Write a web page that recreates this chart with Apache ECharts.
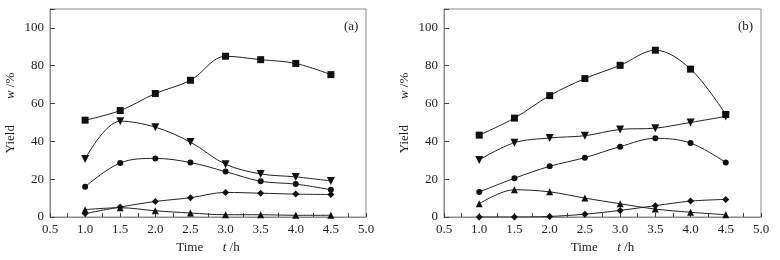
<!DOCTYPE html>
<html>
<head>
<meta charset="utf-8">
<script src="https://cdn.jsdelivr.net/npm/echarts@6/dist/echarts.min.js"></script>
<style>
  html, body { margin: 0; padding: 0; background: #fff; }
  #chart { width: 780px; height: 260px; }
</style>
</head>
<body>
<div id="chart"></div>
<script>
// 反应时间 t/h
const times = [1.0, 1.5, 2.0, 2.5, 3.0, 3.5, 4.0, 4.5]
const xTicks = [0.5, 1.0, 1.5, 2.0, 2.5, 3.0, 3.5, 4.0, 4.5, 5.0]
const yTicks = [0, 20, 40, 60, 80, 100]

// panel (a)
const aSquare = [51.2, 56.3, 65.3, 72.3, 85, 83.2, 81.2, 75.3]
const aDown = [30.7, 50.7, 47.5, 39.6, 27.9, 22.8, 21.2, 19.1]
const aCircle = [16, 28.6, 31, 28.8, 24, 18.9, 17.4, 14.4]
const aDiamond = [1.8, 5.3, 8.2, 10.2, 13, 12.6, 12.1, 11.9]
const aUp = [3.9, 4.9, 3.3, 2.1, 1.2, 1.2, 0.9, 0.9]

// panel (b)
const bSquare = [43.3, 52.3, 64.2, 73.2, 80.2, 88.2, 78.2, 54.2]
const bDown = [30.2, 39.3, 41.8, 43, 46.3, 47, 50, 53.2]
const bCircle = [13.2, 20.5, 26.8, 31.4, 37.2, 41.6, 39.1, 28.8]
const bUp = [7, 14.4, 13.3, 10, 7, 4.2, 2.5, 1.2]
const bDiamond = [0, 0, 0.3, 1.5, 3.5, 6, 8.4, 9.3]

const font = "'Liberation Serif', 'Times New Roman', serif"
const frame = '#8a8a8a'

function pairs(vals) {
  return times.map((t, i) => [t, vals[i]])
}

function makeSeries(vals, idx, symbol, size, rotate) {
  return {
    type: 'line',
    xAxisIndex: idx,
    yAxisIndex: idx,
    data: pairs(vals),
    smooth: 0.35,
    symbol,
    symbolSize: size,
    symbolRotate: rotate || 0,
    showSymbol: true,
    clip: true,
    itemStyle: { color: '#111' },
    lineStyle: { color: '#222', width: 1 },
    z: 3
  }
}

function xAxisOf(idx) {
  return {
    type: 'value',
    gridIndex: idx,
    min: xTicks[0],
    max: xTicks[xTicks.length - 1],
    interval: 0.5,
    axisLine: { lineStyle: { color: frame, width: 1 } },
    axisTick: { inside: true, length: 4, lineStyle: { color: '#444' } },
    minorTick: { show: true, splitNumber: 2, length: 4, lineStyle: { color: '#444' } },
    splitLine: { show: false },
    axisLabel: {
      color: '#222',
      fontFamily: font,
      fontSize: 13,
      margin: 6,
      formatter: v => v.toFixed(1)
    },
    name: '{n|Time}      {i|t} /h',
    nameLocation: 'middle',
    nameGap: 22,
    nameTextStyle: {
      color: '#222',
      fontFamily: font,
      fontSize: 13,
      rich: {
        n: { fontFamily: font, fontSize: 13, color: '#222' },
        i: { fontFamily: font, fontSize: 13, color: '#222', fontStyle: 'italic' }
      }
    }
  }
}

function yAxisOf(idx) {
  return {
    type: 'value',
    gridIndex: idx,
    min: 0,
    max: 110,
    interval: 20,
    axisLine: { show: true, lineStyle: { color: frame, width: 1 } },
    axisTick: { show: true, inside: true, length: 5, lineStyle: { color: '#444' } },
    splitLine: { show: false },
    axisLabel: {
      color: '#222',
      fontFamily: font,
      fontSize: 13,
      margin: 6,
      formatter: v => (yTicks.indexOf(v) >= 0 ? String(v) : '')
    },
    name: '{n|Yield}        {i|w} /%',
    nameLocation: 'middle',
    nameGap: 33,
    nameTextStyle: {
      color: '#222',
      fontFamily: font,
      fontSize: 13,
      rich: {
        n: { fontFamily: font, fontSize: 13, color: '#222' },
        i: { fontFamily: font, fontSize: 13, color: '#222', fontStyle: 'italic' }
      }
    }
  }
}

const chart = echarts.init(document.getElementById('chart'), null, { renderer: 'canvas' })

chart.setOption({
  animation: false,
  backgroundColor: '#fff',
  title: [
    { text: '(a)', left: 339, top: 15, textStyle: { fontFamily: font, fontSize: 13, fontWeight: 'normal', color: '#222' } },
    { text: '(b)', left: 733, top: 15, textStyle: { fontFamily: font, fontSize: 13, fontWeight: 'normal', color: '#222' } }
  ],
  grid: [
    { left: 50, right: 414, top: 9, bottom: 43, show: true, borderColor: frame, borderWidth: 1 },
    { left: 444, right: 19, top: 9, bottom: 43, show: true, borderColor: frame, borderWidth: 1 }
  ],
  xAxis: [xAxisOf(0), xAxisOf(1)],
  yAxis: [yAxisOf(0), yAxisOf(1)],
  series: [
    makeSeries(aSquare, 0, 'rect', 7),
    makeSeries(aDown, 0, 'triangle', 8, 180),
    makeSeries(aCircle, 0, 'circle', 6),
    makeSeries(aDiamond, 0, 'diamond', 7),
    makeSeries(aUp, 0, 'triangle', 7),
    makeSeries(bSquare, 1, 'rect', 7),
    makeSeries(bDown, 1, 'triangle', 8, 180),
    makeSeries(bCircle, 1, 'circle', 6),
    makeSeries(bUp, 1, 'triangle', 7),
    makeSeries(bDiamond, 1, 'diamond', 7)
  ]
})
</script>
</body>
</html>
